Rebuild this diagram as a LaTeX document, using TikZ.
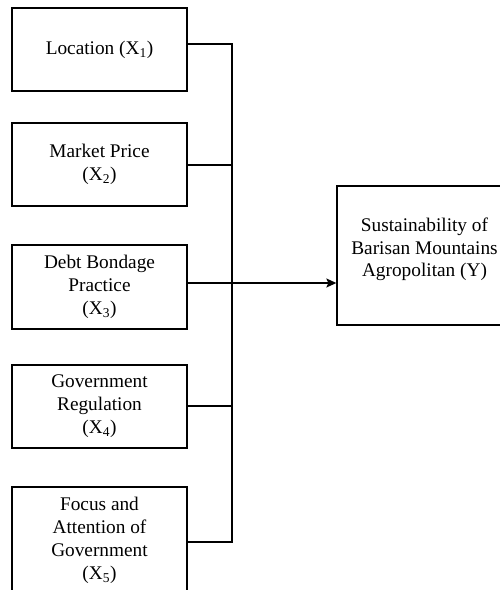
\documentclass[tikz,border=0pt]{standalone}
\usepackage{fontspec}
\setmainfont{Liberation Serif}
\usetikzlibrary{arrows.meta}
\begin{document}
\begin{tikzpicture}[x=1pt,y=-1pt,
  box/.style={draw, line width=1.3pt, rectangle, minimum width=175pt, inner sep=0pt, align=center,
    font=\fontsize{19.3pt}{23pt}\selectfont},
  txt/.style={align=center, inner sep=0pt, font=\fontsize{19.3pt}{22.5pt}\selectfont},
  conn/.style={line width=1.4pt}]
\useasboundingbox (0,0) rectangle (500,590);
\clip (0,0) rectangle (500,590);
\node[box, minimum height=83pt] (b1) at (99.5,49.5) {Location (X\textsubscript{1})};
\node[box, minimum height=83pt] (b2) at (99.5,164.5) {Market Price\\(X\textsubscript{2})};
\node[box, minimum height=84pt] (b3) at (99.5,287) {Debt Bondage\\Practice\\(X\textsubscript{3})};
\node[box, minimum height=83pt] (b4) at (99.5,406.5) {Government\\Regulation\\(X\textsubscript{4})};
\node[box, minimum height=106pt] (b5) at (99.5,540) {Focus and\\Attention of\\Government\\(X\textsubscript{5})};
\node[box, minimum height=139pt] (y) at (424.5,255.5) {};
\node[txt] (yt) at (424.5,249.5) {Sustainability of\\Barisan Mountains\\Agropolitan (Y)};
\coordinate (c1) at (232,44);
\coordinate (c2) at (232,165);
\coordinate (c3) at (232,283);
\coordinate (c4) at (232,406);
\coordinate (c5) at (232,542);
\draw[conn] (b1.east |- c1) -- (c1) -- (c5) -- (b5.east |- c5);
\draw[conn] (b2.east |- c2) -- (c2);
\draw[conn] (b4.east |- c4) -- (c4);
\draw[conn, -{Stealth[length=10pt,width=9pt,inset=2pt]}] (b3.east |- c3) -- (y.west |- c3);
\end{tikzpicture}
\end{document}
